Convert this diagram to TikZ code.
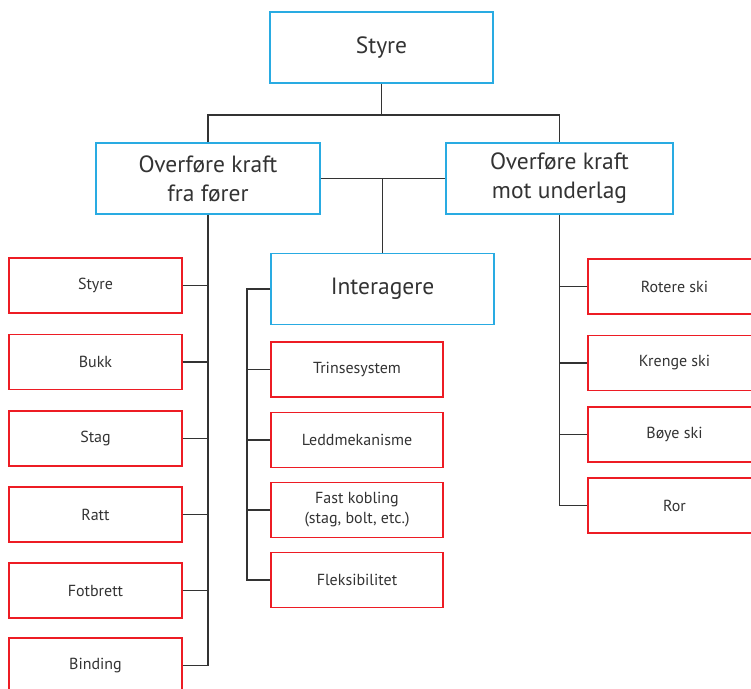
\documentclass[tikz,border=0pt]{standalone}
\usepackage{fontspec}
\setmainfont{PT Sans}
\definecolor{boxblue}{HTML}{29ABE2}
\definecolor{boxred}{HTML}{ED1C24}
\definecolor{linegray}{HTML}{333333}
\tikzset{
    mainbox/.style={draw=boxblue, line width=1.4pt, minimum width=223pt, minimum height=71pt,
        align=center, text=linegray, font=\fontsize{23.5}{29}\selectfont},
    subbox/.style={draw=boxred, line width=1.4pt, minimum width=173pt, minimum height=55pt,
        align=center, text=linegray, font=\fontsize{16}{20}\selectfont},
    branch/.style={draw=linegray, line width=1.3pt}
}

\begin{document}
\begin{tikzpicture}[x=1pt, y=-1pt]
    \useasboundingbox (0,0) rectangle (751,688);
    \clip (0,0) rectangle (751,688);

    % main functions
    \node[mainbox] (styre) at (381.5,47.5) {Styre};
    \node[mainbox, minimum width=224pt] (forer) at (208,178.5) {Overføre kraft\\fra fører};
    \node[mainbox, minimum width=227pt] (underlag) at (559.5,178.5) {Overføre kraft\\mot underlag};
    \node[mainbox] (inter) at (382.5,289) {Interagere};

    % left column
    \node[subbox] (styre2) at (95.5,285.5) {Styre};
    \node[subbox] (bukk) at (95.5,362) {Bukk};
    \node[subbox] (stag) at (95.5,438.5) {Stag};
    \node[subbox] (ratt) at (95.5,514.5) {Ratt};
    \node[subbox] (fotbrett) at (95.5,590.5) {Fotbrett};
    \node[subbox] (binding) at (95.5,665.5) {Binding};

    % middle column
    \node[subbox, minimum width=172pt] (trinse) at (357,369.5) {Trinsesystem};
    \node[subbox, minimum width=172pt] (ledd) at (357,440) {Leddmekanisme};
    \node[subbox, minimum width=172pt] (fast) at (357,510) {Fast kobling\\(stag, bolt, etc.)};
    \node[subbox, minimum width=172pt] (fleks) at (357,580) {Fleksibilitet};

    % right column
    \node[subbox] (rotere) at (674.5,286.5) {Rotere ski};
    \node[subbox] (krenge) at (674.5,363) {Krenge ski};
    \node[subbox] (boye) at (674.5,434.5) {Bøye ski};
    \node[subbox] (ror) at (674.5,505.5) {Ror};

    % connectors
    \coordinate (top) at (381.5,115);
    \draw[branch] (styre.south) -- (top);
    \draw[branch] (forer.north) |- (top) -| (underlag.north);
    \draw[branch] (forer.east) -- (underlag.west);
    \draw[branch] (inter.north) -- (inter.north |- forer.east);

    \draw[branch] (forer.south) |- (binding.east);
    \draw[branch] (styre2.east) -- (styre2.east -| forer.south);
    \draw[branch] (bukk.east) -- (bukk.east -| forer.south);
    \draw[branch] (stag.east) -- (stag.east -| forer.south);
    \draw[branch] (ratt.east) -- (ratt.east -| forer.south);
    \draw[branch] (fotbrett.east) -- (fotbrett.east -| forer.south);

    \coordinate (rail) at (247,289);
    \draw[branch] (inter.west) -- (rail) |- (fleks.west);
    \draw[branch] (trinse.west) -- (trinse.west -| rail);
    \draw[branch] (ledd.west) -- (ledd.west -| rail);
    \draw[branch] (fast.west) -- (fast.west -| rail);

    \draw[branch] (underlag.south) |- (ror.west);
    \draw[branch] (rotere.west) -- (rotere.west -| underlag.south);
    \draw[branch] (krenge.west) -- (krenge.west -| underlag.south);
    \draw[branch] (boye.west) -- (boye.west -| underlag.south);
\end{tikzpicture}
\end{document}
